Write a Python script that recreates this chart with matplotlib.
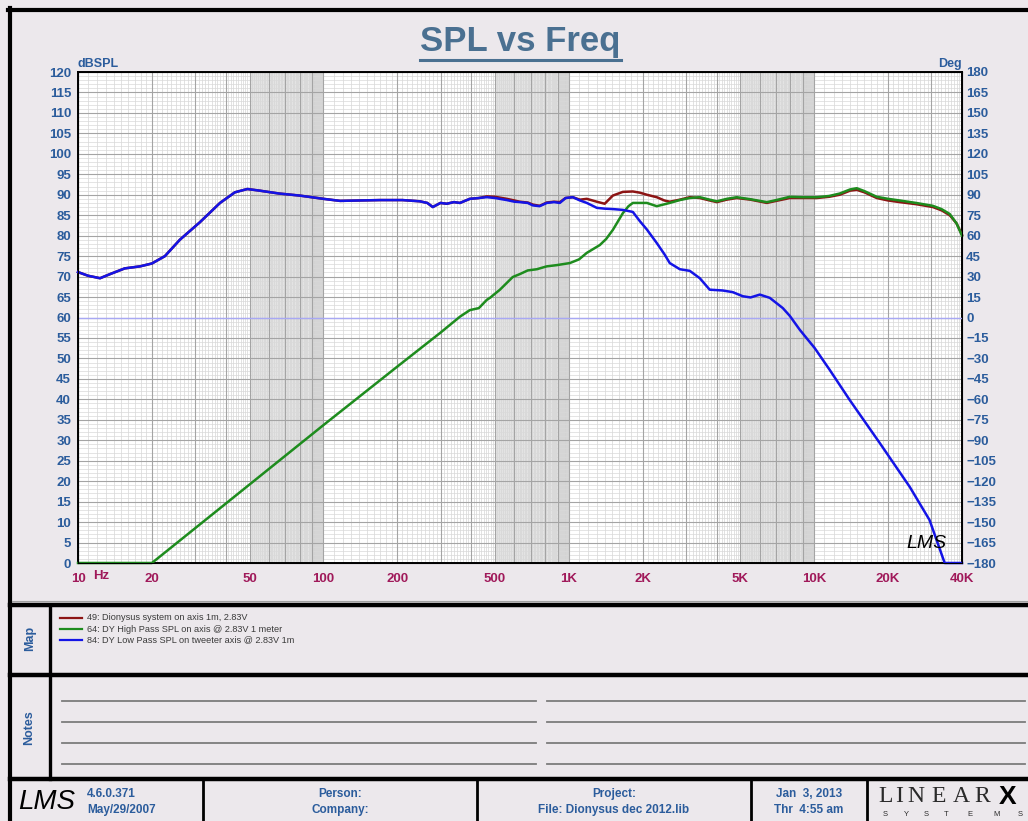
import matplotlib
matplotlib.use("Agg")
import matplotlib.pyplot as plt
from matplotlib.ticker import NullLocator

plt.rcParams['font.family'] = ['Liberation Sans', 'DejaVu Sans']

# ---- curves (Hz, dBSPL) ----
freq_low = [10, 11, 12.3, 13.5, 15.5, 17.9, 20, 22.6, 26, 31.4,
            37.9, 43.6, 49, 55, 66, 80, 100, 117, 140, 170,
            210, 247, 265, 279, 300, 318, 340, 360, 395, 430,
            463, 500, 559, 600, 631, 680, 713, 760, 813, 870,
            919, 970, 1038, 1110, 1184, 1300, 1400, 1511, 1660, 1823,
            1950, 2080, 2282, 2450, 2578, 2833, 3111, 3417, 3750, 4236,
            4655, 5113, 5500, 6000, 6590, 7446, 7950, 8730, 10050, 11560,
            13960, 18500, 24500, 29500, 34000, 40000]
spl_low = [71.1, 70.2, 69.6, 70.6, 72.0, 72.5, 73.2, 75.0, 79.0, 83.3,
           88.0, 90.6, 91.4, 91.0, 90.3, 89.8, 89.0, 88.5, 88.6, 88.7,
           88.7, 88.4, 88.0, 87.0, 88.0, 87.8, 88.2, 88.0, 89.0, 89.2,
           89.4, 89.2, 88.7, 88.3, 88.2, 88.0, 87.4, 87.2, 88.0, 88.2,
           88.0, 89.2, 89.4, 88.6, 88.0, 86.8, 86.6, 86.5, 86.3, 85.8,
           83.5, 81.5, 78.2, 75.5, 73.3, 71.8, 71.4, 69.6, 66.8, 66.6,
           66.2, 65.2, 64.9, 65.6, 64.8, 62.3, 60.4, 57.0, 52.5, 47.2,
           39.8, 29.3, 18.6, 10.5, 0.0, 0.0]

freq_sys = [10, 11, 12.3, 13.5, 15.5, 17.9, 20, 22.6, 26, 31.4,
            37.9, 43.6, 49, 55, 66, 80, 100, 117, 140, 170,
            210, 247, 265, 279, 300, 318, 340, 360, 395, 430,
            463, 500, 559, 600, 631, 680, 713, 760, 813, 870,
            919, 970, 1038, 1110, 1184, 1300, 1400, 1511, 1660, 1823,
            1950, 2080, 2282, 2450, 2578, 2833, 3111, 3417, 3750, 4009,
            4400, 4831, 5500, 6410, 7000, 7950, 9000, 10230, 11500, 12700,
            14000, 14900, 16000, 17980, 20000, 22300, 26000, 30400, 33000, 35650,
            38000, 40000]
spl_sys = [71.1, 70.2, 69.6, 70.6, 72.0, 72.5, 73.2, 75.0, 79.0, 83.3,
           88.0, 90.6, 91.4, 91.0, 90.3, 89.8, 89.0, 88.5, 88.6, 88.7,
           88.7, 88.4, 88.0, 87.0, 88.0, 87.8, 88.2, 88.0, 89.0, 89.2,
           89.6, 89.5, 89.0, 88.6, 88.3, 88.1, 87.6, 87.3, 88.1, 88.3,
           88.2, 89.2, 89.4, 88.8, 89.0, 88.3, 87.8, 89.8, 90.7, 90.8,
           90.5, 90.0, 89.4, 88.6, 88.3, 88.8, 89.4, 89.2, 88.6, 88.2,
           88.8, 89.2, 88.8, 88.0, 88.5, 89.2, 89.2, 89.2, 89.5, 90.0,
           91.0, 91.2, 90.6, 89.2, 88.6, 88.2, 87.7, 87.0, 86.2, 85.0,
           83.0, 80.2]

freq_high = [10, 20, 100, 200, 300, 360, 395, 430, 463, 477,
             524, 591, 631, 680, 741, 813, 893, 1009, 1100, 1184,
             1337, 1420, 1511, 1660, 1750, 1823, 2080, 2282, 2578, 2833,
             3111, 3417, 3750, 4009, 4400, 4831, 5500, 6410, 7000, 7950,
             9000, 10230, 11500, 12700, 14000, 14900, 16000, 17980, 20000, 22300,
             26000, 30400, 33000, 35650, 38000, 40000]
spl_high = [0, 0, 33.7, 48.0, 56.3, 60.2, 61.8, 62.3, 64.3, 64.8,
            66.8, 69.9, 70.6, 71.5, 71.8, 72.5, 72.8, 73.3, 74.2, 75.8,
            77.7, 79.2, 81.4, 85.5, 87.2, 88.0, 88.0, 87.2, 88.0, 88.7,
            89.2, 89.4, 88.8, 88.4, 89.0, 89.4, 88.9, 88.2, 88.7, 89.5,
            89.4, 89.4, 89.7, 90.3, 91.3, 91.6, 90.9, 89.5, 89.0, 88.6,
            88.0, 87.3, 86.5, 85.3, 83.0, 80.0]

legend_labels = ["49: Dionysus system on axis 1m, 2.83V",
                 "64: DY High Pass SPL on axis @ 2.83V 1 meter",
                 "84: DY Low Pass SPL on tweeter axis @ 2.83V 1m"]
series_colors = ["#8c1414", "#1e8c1e", "#1414e6"]

x_ticks = [10, 20, 50, 100, 200, 500, 1000, 2000, 5000, 10000, 20000, 40000]
x_tick_labels = ["10", "20", "50", "100", "200", "500", "1K", "2K", "5K", "10K", "20K", "40K"]
db_ticks = list(range(0, 121, 5))
deg_ticks = list(range(-180, 181, 15))

footer_cells = [("Person:", "Company:"),
                ("Project:", "File: Dionysus dec 2012.lib"),
                ("Jan  3, 2013", "Thr  4:55 am")]

W, H = 1028, 821
BLUE_TXT = "#2b5c9c"
MAG_TXT = "#a0195a"
BG = "#ece8ec"


def px(x0, y0, x1, y1):
    return [x0 / W, 1 - y1 / H, (x1 - x0) / W, (y1 - y0) / H]


fig = plt.figure(figsize=(W / 100, H / 100), dpi=100, facecolor=BG)

# overlay for frame, title, map, notes, footer (pixel coordinates)
bg = fig.add_axes([0, 0, 1, 1], zorder=-1)
bg.set_xlim(0, W)
bg.set_ylim(H, 0)
bg.axis("off")

# ---- main chart ----
ax = fig.add_axes(px(78, 72, 962, 563))
ax.set_facecolor("white")
ax.set_xscale("log")
ax.set_xlim(10, 40000)
ax.set_ylim(0, 120)

# shaded upper half of each decade, like the LMS grid
for d in [10, 100, 1000]:
    ax.axvspan(5 * d, 10 * d, color="#e3e3e3", lw=0, zorder=0)
    ax.axvspan(9 * d, 10 * d, color="#d3d3d3", lw=0, zorder=0)

minor_f = []
major_f = []
for d in [10, 100, 1000, 10000]:
    for m in range(10, 100):
        f = d * m / 10
        if f > 40000:
            break
        if m % 10 == 0:
            major_f.append(f)
        else:
            minor_f.append(f)
ax.vlines(minor_f, 0, 120, color="#d6d6d6", lw=0.5, zorder=1)
ax.hlines([v for v in range(0, 121) if v % 5], 10, 40000, color="#d9d9d9", lw=0.5, zorder=1)
ax.vlines(major_f, 0, 120, color="#a4a4a4", lw=0.8, zorder=2)
ax.hlines(db_ticks, 10, 40000, color="#a4a4a4", lw=0.8, zorder=2)
ax.axhline(60, color="#a8a8f4", lw=1.0, zorder=3)

ax.plot(freq_sys, spl_sys, color=series_colors[0], lw=1.8, zorder=5, clip_on=False)
ax.plot(freq_high, spl_high, color=series_colors[1], lw=1.8, zorder=6, clip_on=False)
ax.plot(freq_low, spl_low, color=series_colors[2], lw=1.8, zorder=7, clip_on=False)

ax.xaxis.set_minor_locator(NullLocator())
ax.set_xticks(x_ticks, x_tick_labels)
ax.set_yticks(db_ticks)
ax.tick_params(axis="x", length=0, pad=7, labelsize=9.5, labelcolor=MAG_TXT)
ax.tick_params(axis="y", length=0, pad=5, labelsize=9.5, labelcolor=BLUE_TXT)
for s in ax.spines.values():
    s.set_linewidth(1.4)

ax2 = ax.twinx()
ax2.set_ylim(-180, 180)
ax2.set_yticks(deg_ticks)
ax2.tick_params(axis="y", length=0, pad=3, labelsize=9.5, labelcolor=BLUE_TXT)
for lab in ax.get_xticklabels() + ax.get_yticklabels() + ax2.get_yticklabels():
    lab.set_fontweight("bold")

ax.text(0.0, 1.005, "dBSPL", transform=ax.transAxes, fontsize=9, fontweight="bold",
        color=BLUE_TXT, ha="left", va="bottom")
ax.text(1.0, 1.005, "Deg", transform=ax.transAxes, fontsize=9, fontweight="bold",
        color=BLUE_TXT, ha="right", va="bottom")
bg.text(93, 576, "Hz", fontsize=9.5, fontweight="bold", color=MAG_TXT, ha="left", va="center")
ax.text(0.96, 0.04, "LMS", transform=ax.transAxes, fontsize=14, fontstyle="italic",
        color="black", ha="center", va="center", zorder=8)

# title
bg.text(520, 42, "SPL vs Freq", fontsize=25, fontweight="bold", color="#4a7091",
        ha="center", va="center")
bg.plot([420, 621], [60, 60], color="#4a7091", lw=2.2)

# ---- frame ----
bg.plot([10, 10], [8, H], color="black", lw=3)
bg.plot([8, W], [10, 10], color="black", lw=3)
bg.plot([12, W], [601, 601], color="#a0a0a0", lw=0.8)
for y in [605, 675, 779]:
    bg.plot([10, W], [y, y], color="black", lw=3.2)
bg.plot([50, 50], [605, 779], color="black", lw=2.4)
for x in [203, 477, 751, 867]:
    bg.plot([x, x], [779, H], color="black", lw=2)

# map (legend)
bg.text(30, 638, "Map", rotation=90, fontsize=9, fontweight="bold", color=BLUE_TXT,
        ha="center", va="center")
for i, (lab, col) in enumerate(zip(legend_labels, series_colors)):
    y = 618 + 11 * i
    bg.plot([60, 82], [y, y], color=col, lw=1.6)
    bg.text(87, y, lab, fontsize=6.6, color="#3a3a3a", ha="left", va="center")

# notes
bg.text(29, 728, "Notes", rotation=90, fontsize=9, fontweight="bold", color=BLUE_TXT,
        ha="center", va="center")
for y in [701, 722, 743, 764]:
    bg.plot([62, 536], [y, y], color="#7c7c7c", lw=1.3)
    bg.plot([547, 1025], [y, y], color="#7c7c7c", lw=1.3)

# footer
bg.text(47, 802, "LMS", fontsize=20, fontstyle="italic", color="black", ha="center", va="center")
bg.text(87, 794, "4.6.0.371", fontsize=8.5, fontweight="bold", color=BLUE_TXT, ha="left", va="center")
bg.text(87, 810, "May/29/2007", fontsize=8.5, fontweight="bold", color=BLUE_TXT, ha="left", va="center")
for cx, (top, bottom) in zip([340, 614, 809], footer_cells):
    bg.text(cx, 794, top, fontsize=8.5, fontweight="bold", color=BLUE_TXT, ha="center", va="center")
    bg.text(cx, 810, bottom, fontsize=8.5, fontweight="bold", color=BLUE_TXT, ha="center", va="center")
for ch, x in zip("LINEAR", [886, 899, 916, 939, 961, 982]):
    bg.text(x, 797, ch, fontsize=17, family="Liberation Serif", color="#2a2a2a",
            ha="center", va="center")
bg.text(1008, 797, "X", fontsize=19, fontweight="bold", family="Liberation Sans",
        color="black", ha="center", va="center")
for ch, x in zip("SYSTEMS", [885, 906, 926, 946, 970, 997, 1020]):
    bg.text(x, 814, ch, fontsize=5.5, color="#2a2a2a", ha="center", va="center")

fig.savefig("out.png", dpi=100, facecolor=BG)
